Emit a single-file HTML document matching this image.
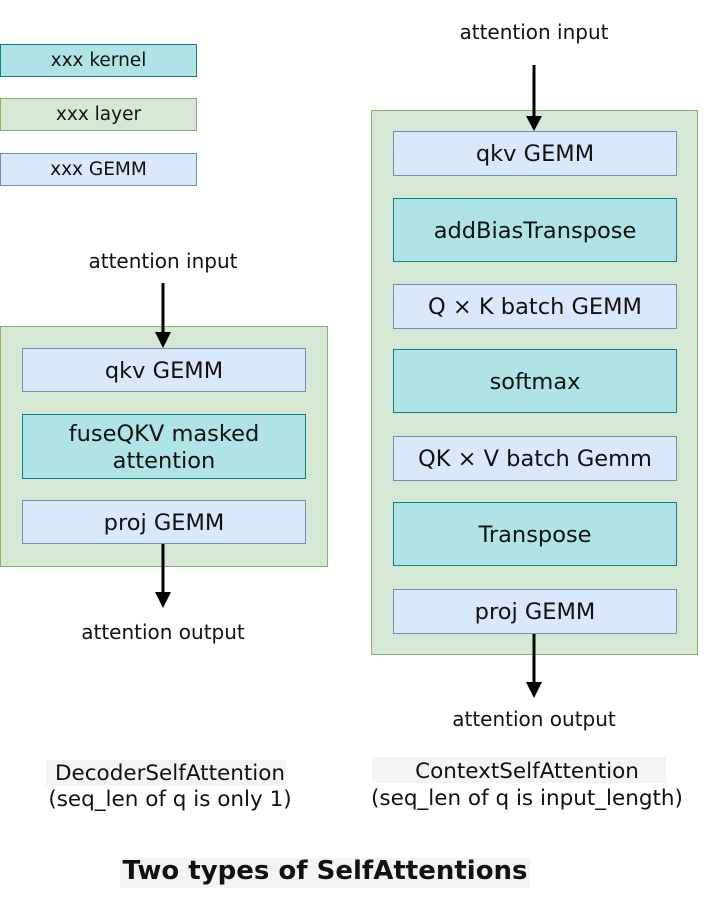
<!DOCTYPE html>
<html><head><meta charset="utf-8"><style>
body{margin:0;width:720px;height:905px;background:#fff;position:relative;font-family:"DejaVu Sans","Liberation Sans",sans-serif;color:#111;overflow:hidden}
.b{position:absolute;box-sizing:border-box;display:flex;align-items:center;justify-content:center;text-align:center;line-height:1.2;padding-top:2px}
.k{background:#b0e3e6;border:1px solid #0e8088}
.l{background:#d5e8d4;border:1px solid #82b366}
.g{background:#dae8fc;border:1px solid #6c8ebf}
.t{position:absolute;text-align:center;white-space:nowrap;font-size:20px}
.bx{font-size:22.5px}
</style></head><body>
<div class="b k" style="left:0;top:44px;width:197px;height:33px;font-size:18.5px">xxx kernel</div>
<div class="b l" style="left:0;top:98px;width:197px;height:33px;font-size:18.5px">xxx layer</div>
<div class="b g" style="left:0;top:153px;width:197px;height:33px;font-size:18.5px">xxx GEMM</div>

<div class="b l" style="left:0;top:326px;width:328px;height:241px"></div>
<div class="b g bx" style="left:22px;top:348px;width:284px;height:44px">qkv GEMM</div>
<div class="b k bx" style="left:22px;top:414px;width:284px;height:65px">fuseQKV masked<br>attention</div>
<div class="b g bx" style="left:22px;top:500px;width:284px;height:44px">proj GEMM</div>
<div class="t" style="left:63px;width:200px;top:249px">attention input</div>
<div class="t" style="left:43px;width:240px;top:620px">attention output</div>

<div class="b l" style="left:371px;top:110px;width:327px;height:545px"></div>
<div class="b g bx" style="left:393px;top:131px;width:284px;height:45px">qkv GEMM</div>
<div class="b k bx" style="left:393px;top:198px;width:284px;height:64px">addBiasTranspose</div>
<div class="b g bx" style="left:393px;top:284px;width:284px;height:45px">Q × K batch GEMM</div>
<div class="b k bx" style="left:393px;top:349px;width:284px;height:64px">softmax</div>
<div class="b g bx" style="left:393px;top:436px;width:284px;height:45px">QK × V batch Gemm</div>
<div class="b k bx" style="left:393px;top:502px;width:284px;height:64px">Transpose</div>
<div class="b g bx" style="left:393px;top:589px;width:284px;height:45px">proj GEMM</div>
<div class="t" style="left:434px;width:200px;top:20px">attention input</div>
<div class="t" style="left:414px;width:240px;top:707px">attention output</div>

<svg style="position:absolute;left:0;top:0" width="720" height="905">
<rect x="46" y="760" width="240" height="26" fill="#f3f5f5"/>
<rect x="372" y="757" width="294" height="26" fill="#f3f5f5"/>
<rect x="120" y="858" width="410" height="30" fill="#f3f5f5"/>
<g stroke="#000" stroke-width="3"><line x1="163" y1="283" x2="163" y2="336"/><line x1="163" y1="544" x2="163" y2="596"/><line x1="534" y1="65" x2="534" y2="120"/><line x1="534" y1="634" x2="534" y2="686"/></g>
<g fill="#000"><path d="M155 332 L163 348 L171 332 Z"/><path d="M155 592 L163 608 L171 592 Z"/><path d="M526 116 L534 131 L542 116 Z"/><path d="M526 682 L534 698 L542 682 Z"/></g>
</svg>

<div class="t" style="left:0;width:340px;top:761px;line-height:26px;font-size:21.5px">DecoderSelfAttention<br>(seq_len of q is only 1)</div>
<div class="t" style="left:357px;width:340px;top:758px;line-height:27px;font-size:21.5px">ContextSelfAttention<br>(seq_len of q is input_length)</div>
<div class="t" style="left:0;width:650px;top:856px;font-size:26px;font-weight:bold">Two types of SelfAttentions</div>
</body></html>
